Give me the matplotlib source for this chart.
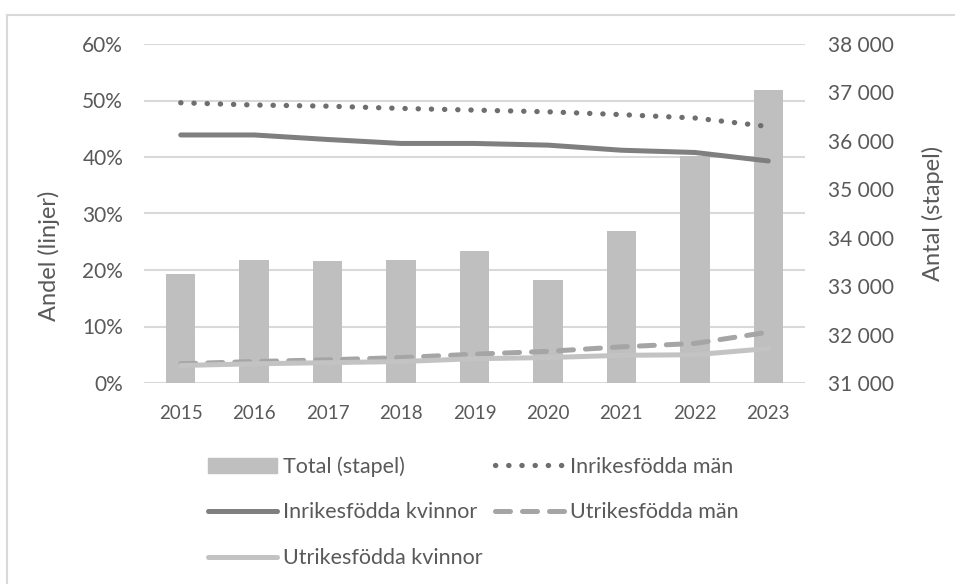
import numpy as np
import matplotlib.pyplot as plt
from matplotlib.lines import Line2D
from matplotlib.ticker import FuncFormatter, PercentFormatter

years = ["2015", "2016", "2017", "2018", "2019", "2020", "2021", "2022", "2023"]
total = [33260, 33550, 33520, 33550, 33730, 33120, 34130, 35680, 37050]
inrikes_man = [0.496, 0.492, 0.490, 0.486, 0.483, 0.480, 0.475, 0.469, 0.454]
inrikes_kvinnor = [0.439, 0.439, 0.431, 0.424, 0.424, 0.421, 0.412, 0.408, 0.393]
utrikes_man = [0.034, 0.038, 0.041, 0.045, 0.051, 0.056, 0.064, 0.070, 0.090]
utrikes_kvinnor = [0.031, 0.034, 0.036, 0.038, 0.043, 0.045, 0.049, 0.050, 0.061]

W, H = 955, 584
text_col = "#595959"
grid_col = "#D9D9D9"
plt.rcParams["font.family"] = ["Lato", "DejaVu Sans"]

fig = plt.figure(figsize=(W / 100, H / 100), dpi=100)
pos = [144 / W, 1 - 383 / H, (805 - 144) / W, (383 - 44) / H]

# grid + left axis (percent)
ax = fig.add_axes(pos)
x = np.arange(len(years))
ax.set_xlim(-0.5, len(years) - 0.5)
ax.set_ylim(0, 0.6)
ax.set_yticks(np.arange(0, 0.61, 0.1))
ax.yaxis.set_major_formatter(PercentFormatter(1.0, decimals=0))
ax.set_xticks(x)
ax.set_xticklabels(years)
ax.grid(axis="y", color=grid_col, lw=1.5)
ax.tick_params(length=0, colors=text_col)
ax.tick_params(axis="y", labelsize=15, pad=15)
ax.tick_params(axis="x", labelsize=13.5, pad=16)
for s in ax.spines.values():
    s.set_visible(False)
ax.set_ylabel("Andel (linjer)", fontsize=17, color=text_col)
ax.yaxis.set_label_coords(60 / W, 1 - 256 / H, transform=fig.transFigure)

# bars on right axis
axb = ax.twinx()
axb.bar(x, total, width=0.4, color="#BFBFBF", zorder=2)
axb.set_ylim(31000, 38000)
axb.set_yticks(np.arange(31000, 38001, 1000))
axb.yaxis.set_major_formatter(FuncFormatter(lambda v, p: f"{int(v):,}".replace(",", " ")))
axb.tick_params(length=0, labelsize=15, colors=text_col, pad=16.5)
for s in axb.spines.values():
    s.set_visible(False)
axb.set_ylabel("Antal (stapel)", fontsize=17, color=text_col)
axb.yaxis.set_label_coords(922 / W, 1 - 213 / H, transform=fig.transFigure)

# lines on top
axl = ax.twinx()
axl.set_ylim(0, 0.6)
axl.set_yticks([])
for s in axl.spines.values():
    s.set_visible(False)
lw = 3.6
dots = (0, (0.05, 2.45))
dashes = (0, (3.0, 2.4))
axl.plot(x, inrikes_man, color="#6E6E6E", lw=3.8, linestyle=dots, dash_capstyle="round")
axl.plot(x, inrikes_kvinnor, color="#7F7F7F", lw=lw, solid_capstyle="round")
axl.plot(x, utrikes_man, color="#A5A5A5", lw=lw, linestyle=dashes, dash_capstyle="round")
axl.plot(x, utrikes_kvinnor, color="#C3C3C3", lw=lw, solid_capstyle="round")

handles = [
    plt.Rectangle((0, 0), 1, 1, color="#BFBFBF"),
    Line2D([], [], color="#7F7F7F", lw=lw, solid_capstyle="round"),
    Line2D([], [], color="#C3C3C3", lw=lw, solid_capstyle="round"),
    Line2D([], [], color="#6E6E6E", lw=3.8, linestyle=dots, dash_capstyle="round"),
    Line2D([], [], color="#A5A5A5", lw=lw, linestyle=dashes, dash_capstyle="round"),
]
labels = ["Total (stapel)", "Inrikesfödda kvinnor", "Utrikesfödda kvinnor",
          "Inrikesfödda män", "Utrikesfödda män"]
fig.legend(handles, labels, ncol=2, loc="upper left", frameon=False,
           bbox_to_anchor=(208 / W, 1 - 456 / H), fontsize=15.5,
           labelcolor=text_col, handlelength=3.2, handletextpad=0.28,
           labelspacing=1.2, columnspacing=0.6, borderpad=0, borderaxespad=0)

# chart area border
fig.add_artist(Line2D([7 / W, 1], [1 - 15 / H, 1 - 15 / H], color=grid_col, lw=1.5))
fig.add_artist(Line2D([7 / W, 7 / W], [0, 1 - 15 / H], color=grid_col, lw=1.5))

fig.savefig("out.png", dpi=100)
